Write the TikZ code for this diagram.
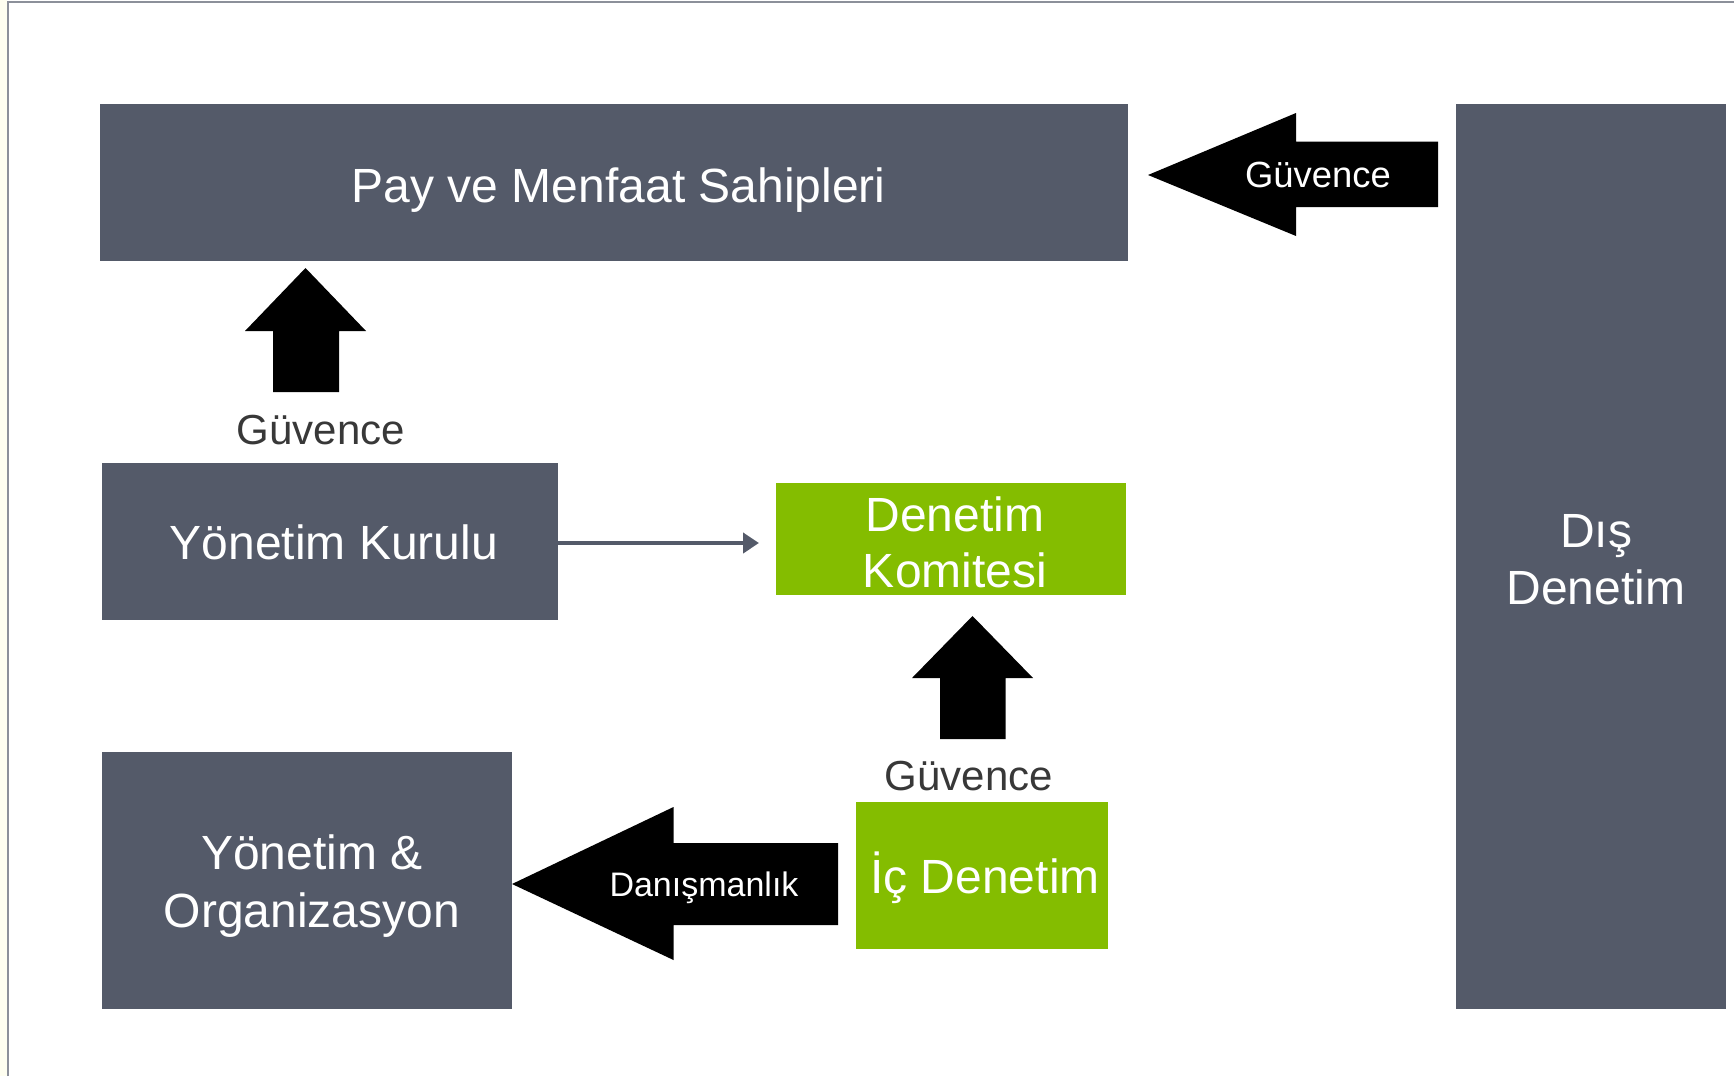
\documentclass[tikz,border=0pt]{standalone}
\usepackage{fontspec}
\setmainfont{Liberation Sans}
\usetikzlibrary{arrows.meta}
\definecolor{slate}{HTML}{545A69}
\definecolor{leaf}{HTML}{84BD00}
\definecolor{labelgray}{HTML}{383838}
\definecolor{framegray}{HTML}{8C909A}
\definecolor{cream}{HTML}{FEFEF0}
\tikzset{
  slatebox/.style={inner sep=0pt, outer sep=0pt, fill=slate},
  leafbox/.style={inner sep=0pt, outer sep=0pt, fill=leaf},
  boxtext/.style={inner sep=0pt, text=white, align=center,
    font=\fontsize{24}{28.5}\selectfont},
  blockarrow/.style={fill=black},
  arrowtext/.style={text=white, inner sep=0pt},
  sidelabel/.style={text=labelgray, inner sep=0pt, font=\fontsize{21}{25}\selectfont},
  thinlink/.style={draw=slate, line width=2.2pt, -{Triangle[length=8pt,width=10pt]}}
}
\begin{document}
\begin{tikzpicture}[x=0.5pt, y=-0.5pt]
  \useasboundingbox (0,0) rectangle (1734,1076);
  % page edge and frame
  \fill[cream] (0,0) rectangle (7,1076);
  \draw[framegray, line width=1pt] (8,1076) -- (8,1.5) -- (1734,1.5);

  % boxes (sizes in pt, positions in px units)
  \node[slatebox, minimum width=514.25pt, minimum height=78.5pt] (pay) at (613.75,182.5) {};
  \node[slatebox, minimum width=135pt, minimum height=452.5pt] (dis) at (1591,556.5) {};
  \node[slatebox, minimum width=228pt, minimum height=78.5pt] (yk) at (330,541.5) {};
  \node[leafbox, minimum width=175pt, minimum height=56pt] (dk) at (951,539) {};
  \node[leafbox, minimum width=126pt, minimum height=73.5pt] (ic) at (982,875.5) {};
  \node[slatebox, minimum width=205pt, minimum height=128.5pt] (yo) at (307,880.5) {};

  % box captions
  \node[boxtext, xshift=2.5pt, yshift=-4pt] (payt) at (pay.center) {Pay ve Menfaat Sahipleri};
  \node[boxtext, xshift=2.5pt, yshift=-1.5pt] (dist) at (dis.center) {Dış\\Denetim};
  \node[boxtext, xshift=2pt, yshift=-0.5pt] (ykt) at (yk.center) {Yönetim Kurulu};
  \node[boxtext, xshift=2pt, yshift=-1.5pt, font=\fontsize{24}{28}\selectfont] (dkt) at (dk.center) {Denetim\\Komitesi};
  \node[boxtext, xshift=1.5pt, yshift=-1pt] (ict) at (ic.center) {İç Denetim};
  \node[boxtext, xshift=2.5pt, yshift=-3pt, font=\fontsize{24}{29}\selectfont] (yot) at (yo.center) {Yönetim \&\\Organizasyon};

  % block arrow: Dış Denetim -> Pay ve Menfaat Sahipleri
  \fill[blockarrow] (1148,175) -- (1296,113) -- (1296,141.5) -- (1438,141.5)
    -- (1438,207) -- (1296,207) -- (1296,236) -- cycle;
  \node[arrowtext, font=\fontsize{18.2}{22}\selectfont] (g1) at (1318,175) {Güvence};

  % block arrow: Yönetim Kurulu -> Pay ve Menfaat Sahipleri
  \fill[blockarrow] (305.5,268) -- (366,331) -- (339,331) -- (339,392)
    -- (273,392) -- (273,331) -- (245,331) -- cycle;
  \node[sidelabel] (g2) at (321,430) {Güvence};

  % block arrow: İç Denetim -> Denetim Komitesi
  \fill[blockarrow] (972.5,616) -- (1033,678) -- (1005.5,678) -- (1005.5,739)
    -- (940,739) -- (940,678) -- (912,678) -- cycle;
  \node[sidelabel] (g3) at (969,776) {Güvence};

  % block arrow: İç Denetim -> Yönetim & Organizasyon
  \fill[blockarrow] (512,884) -- (673.5,807) -- (673.5,843) -- (838,843)
    -- (838,925) -- (673.5,925) -- (673.5,960) -- cycle;
  \node[arrowtext, font=\fontsize{17}{20}\selectfont] (dn) at (704,888) {Danışmanlık};

  % thin link: Yönetim Kurulu -> Denetim Komitesi
  \coordinate (dkin) at (759,543);
  \draw[thinlink] (yk.east |- dkin) -- (dkin);
\end{tikzpicture}
\end{document}
